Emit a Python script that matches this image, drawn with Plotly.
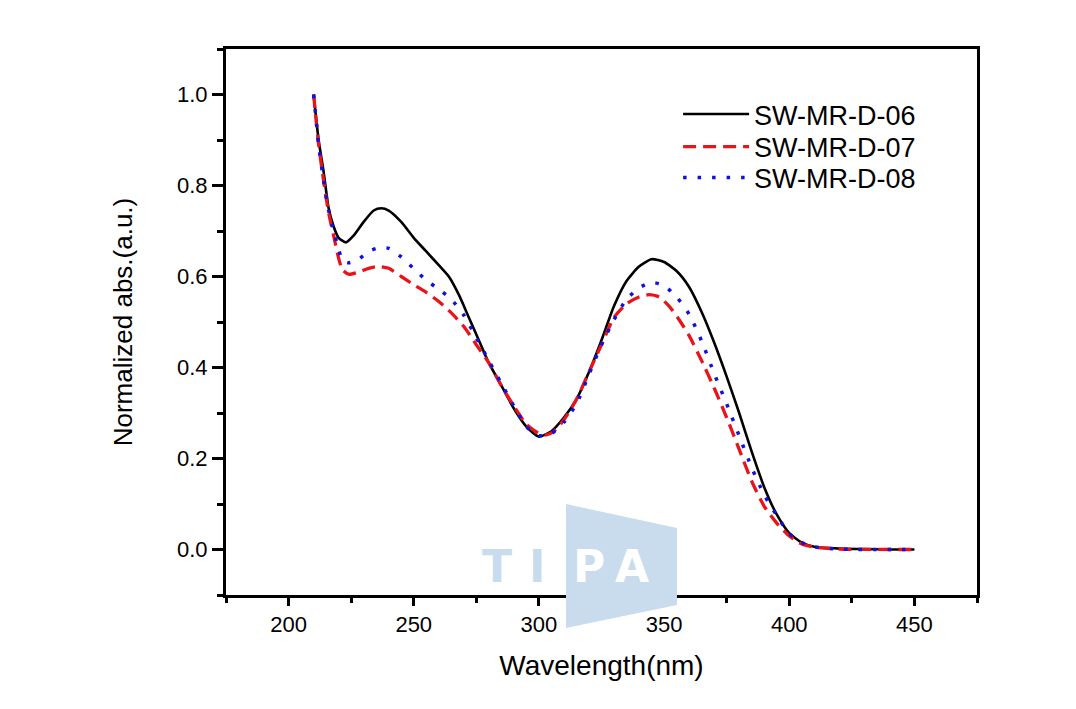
import plotly.graph_objects as go

# ---- data ----
wl_06 = [210, 212, 214, 216, 218, 220, 223, 226, 230, 234, 237, 240, 245, 250, 255, 260, 264, 268, 272, 276,
         280, 285, 290, 295, 300, 305, 310, 315, 320, 325, 330, 335, 340, 345, 350, 355, 360, 365, 370, 375,
         380, 385, 390, 395, 400, 405, 410, 420, 430, 440, 450]
abs_06 = [1.0, 0.90, 0.83, 0.75, 0.71, 0.685, 0.675, 0.69, 0.72, 0.745, 0.75, 0.745, 0.72, 0.685, 0.655, 0.625, 0.60, 0.56, 0.51, 0.46,
          0.41, 0.36, 0.31, 0.27, 0.248, 0.26, 0.29, 0.33, 0.39, 0.46, 0.535, 0.59, 0.622, 0.638, 0.632, 0.612, 0.577, 0.522, 0.455, 0.38,
          0.30, 0.215, 0.137, 0.077, 0.036, 0.015, 0.006, 0.002, 0.001, 0.0, 0.0]

wl_07 = [210, 212, 214, 216, 218, 220, 221.5, 224, 228, 232, 236, 240, 245, 250, 255, 260, 265, 270, 275, 280,
         285, 290, 295, 300, 303, 306, 310, 315, 320, 325, 330, 335, 340, 344, 348, 352, 356, 360, 365, 370,
         375, 380, 385, 390, 395, 400, 405, 410, 420, 450]
abs_07 = [1.0, 0.89, 0.81, 0.74, 0.69, 0.64, 0.615, 0.605, 0.61, 0.618, 0.622, 0.618, 0.60, 0.582, 0.565, 0.545, 0.52, 0.49, 0.45, 0.41,
          0.36, 0.315, 0.275, 0.255, 0.252, 0.26, 0.285, 0.33, 0.39, 0.45, 0.51, 0.54, 0.555, 0.56, 0.555, 0.535, 0.505, 0.47, 0.415, 0.355,
          0.29, 0.22, 0.15, 0.095, 0.058, 0.03, 0.012, 0.005, 0.001, 0.0]

wl_08 = [210, 212, 214, 216, 218, 220, 221.5, 224, 228, 232, 236, 240, 245, 250, 255, 260, 265, 270, 275, 280,
         285, 290, 295, 300, 305, 310, 315, 320, 325, 330, 335, 340, 345, 350, 355, 360, 365, 370, 375, 380,
         385, 390, 395, 400, 405, 410, 420, 450]
abs_08 = [1.0, 0.89, 0.81, 0.745, 0.70, 0.66, 0.635, 0.63, 0.638, 0.655, 0.663, 0.662, 0.643, 0.617, 0.592, 0.572, 0.55, 0.515, 0.465, 0.415,
          0.365, 0.315, 0.27, 0.25, 0.255, 0.28, 0.32, 0.385, 0.45, 0.505, 0.55, 0.575, 0.587, 0.58, 0.555, 0.517, 0.458, 0.387, 0.32, 0.25,
          0.18, 0.12, 0.075, 0.035, 0.015, 0.006, 0.001, 0.0]

series_names = ["SW-MR-D-06", "SW-MR-D-07", "SW-MR-D-08"]
x_ticks = [200, 250, 300, 350, 400, 450]
y_ticks = [0.0, 0.2, 0.4, 0.6, 0.8, 1.0]

FONT = "Liberation Sans, Arial, sans-serif"
WM = "#c8dcee"

fig = go.Figure()
fig.add_trace(go.Scatter(x=wl_06, y=abs_06, name=series_names[0], mode="lines", legend="legend",
                         line=dict(color="black", width=2.6, shape="spline", smoothing=0.6)))
fig.add_trace(go.Scatter(x=wl_07, y=abs_07, name=series_names[1], mode="lines", legend="legend2",
                         line=dict(color="#e8141b", width=3.3, dash="13px,7px", shape="spline", smoothing=0.6)))
fig.add_trace(go.Scatter(x=wl_08, y=abs_08, name=series_names[2], mode="lines", legend="legend3",
                         line=dict(color="#1010e0", width=3.5, dash="3.5px,11px", shape="spline", smoothing=0.6)))

# watermark (decoration above the plot)
fig.add_shape(type="path", xref="paper", yref="paper", layer="above",
              path="M 0.4527 0.1667 L 0.6005 0.1227 L 0.6005 -0.0183 L 0.4527 -0.0604 Z",
              fillcolor=WM, line=dict(width=0))
for ch, xp, col in [("T", 0.3609, WM), ("I", 0.4138, WM), ("P", 0.4835, "white"), ("A", 0.5406, "white")]:
    fig.add_annotation(text=ch, xref="paper", yref="paper", x=xp, y=0.0513, showarrow=False,
                       xanchor="center", yanchor="middle",
                       font=dict(family="DejaVu Sans", size=44, color=col, weight="bold"))

leg_common = dict(xanchor="left", yanchor="top", bgcolor="rgba(0,0,0,0)", borderwidth=0,
                  font=dict(family=FONT, size=27, color="black"), itemwidth=66)

fig.update_layout(
    width=1060, height=693,
    margin=dict(l=218, r=91, t=41, b=106),
    paper_bgcolor="white", plot_bgcolor="white",
    font=dict(family=FONT, color="black"),
    showlegend=True,
    legend=dict(x=0.602, y=0.925, **leg_common),
    legend2=dict(x=0.602, y=0.8654, **leg_common),
    legend3=dict(x=0.602, y=0.8085, **leg_common),
    xaxis=dict(range=[175, 475], tickvals=x_ticks, ticktext=[str(v) for v in x_ticks],
               ticks="outside", ticklen=8, tickwidth=3, tickcolor="black",
               minor=dict(dtick=25, tick0=175, ticks="outside", ticklen=5, tickwidth=3, tickcolor="black"),
               showline=True, linewidth=3, linecolor="black", mirror=True,
               showgrid=False, zeroline=False,
               tickfont=dict(family=FONT, size=22, color="black"),
               title=dict(text="Wavelength(nm)", font=dict(family=FONT, size=28, color="black"), standoff=19)),
    yaxis=dict(range=[-0.1, 1.1], tickvals=y_ticks, ticktext=["%.1f" % v for v in y_ticks],
               ticks="outside", ticklen=11, tickwidth=3, tickcolor="black",
               minor=dict(dtick=0.1, tick0=-0.1, ticks="outside", ticklen=6, tickwidth=3, tickcolor="black"),
               showline=True, linewidth=3, linecolor="black", mirror=True,
               showgrid=False, zeroline=False,
               tickfont=dict(family=FONT, size=22, color="black"),
               title=dict(text="Normalized abs.(a.u.)", font=dict(family=FONT, size=26, color="black"), standoff=37)),
)

fig.write_html("out.html")
